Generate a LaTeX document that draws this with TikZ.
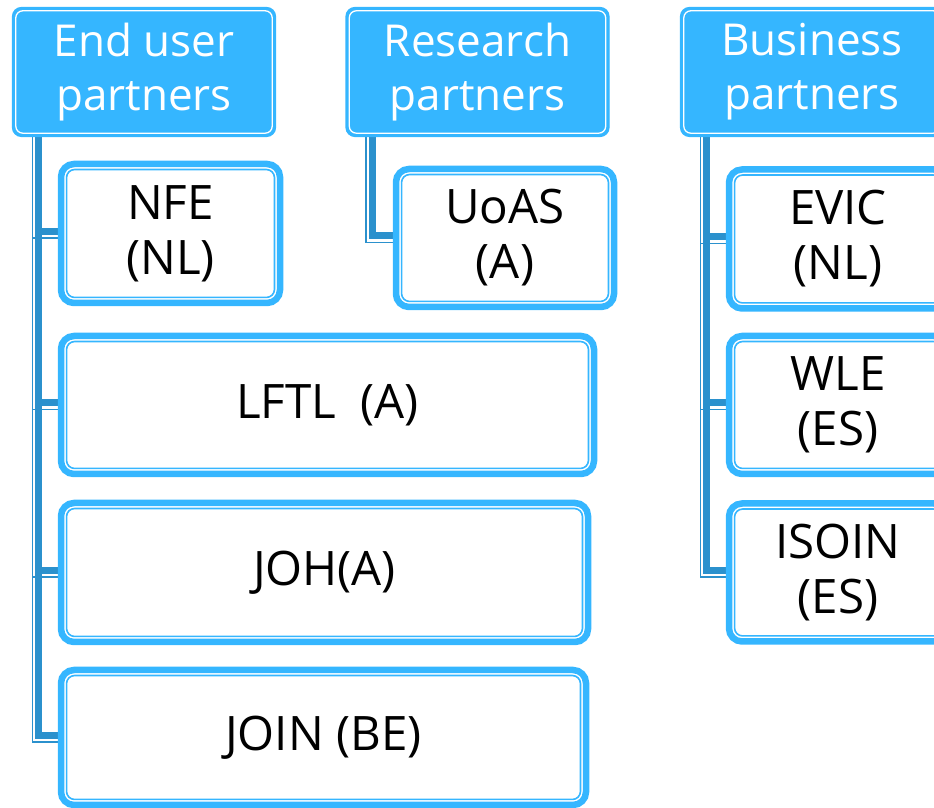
\documentclass[tikz,border=0pt]{standalone}
\usepackage{fontspec}
\setmainfont{Open Sans}
\usetikzlibrary{backgrounds}
\definecolor{lb}{HTML}{35B6FF}
\definecolor{cb}{HTML}{2B91CD}
\begin{document}
\begin{tikzpicture}[x=1pt,y=1pt,
  hdr/.style={draw=lb, line width=1.2pt, fill=lb, rounded corners=9pt, minimum width=263pt, minimum height=129pt, text=white, align=center, font=\fontsize{44}{54}\selectfont, inner sep=0pt},
  child/.style={draw=lb, line width=6.5pt, fill=white, rounded corners=13pt, align=center, font=\fontsize{47.5}{55}\selectfont, inner sep=0pt},
  thickc/.style={draw=cb, line width=7pt},
  thinc/.style={draw=cb, line width=1.5pt},
  innerb/.style={draw=lb, line width=1.6pt, rounded corners=8pt},
  innerh/.style={draw=white, line width=1.3pt, rounded corners=7pt}]
\useasboundingbox (0,0) rectangle (934,808);
\clip (0,0) rectangle (934,808);
% headers
\node[hdr] (eu) at (144,736) {End user\\partners};
\node[hdr] (rs) at (477.5,736) {Research\\partners};
\node[hdr] (bu) at (812,736) {Business\\partners};
% children
\node[child, minimum width=219pt, minimum height=139pt] (nfe) at (170.5,574.5) {NFE\\(NL)};
\node[child, minimum width=218pt, minimum height=138pt] (uoas) at (505,570) {UoAS\\(A)};
\node[child, minimum width=533pt, minimum height=138pt] (lftl) at (327.5,403) {LFTL~~(A)};
\node[child, minimum width=527pt, minimum height=139pt] (joh) at (324.5,235.5) {JOH(A)};
\node[child, minimum width=525pt, minimum height=135pt] (join) at (323.5,70.5) {JOIN (BE)};
\node[child, minimum width=218pt, minimum height=139pt] (evic) at (838,569) {EVIC\\(NL)};
\node[child, minimum width=218pt, minimum height=138pt] (wle) at (838,403) {WLE\\(ES)};
\node[child, minimum width=218pt, minimum height=138pt] (isoin) at (838,235.5) {ISOIN\\(ES)};
% inner lines
\foreach \n in {nfe,uoas,lftl,joh,join,evic,wle,isoin}
  \draw[innerb] ([shift={(8.8pt,8.8pt)}]\n.south west) rectangle ([shift={(-8.8pt,-8.8pt)}]\n.north east);
\foreach \n in {eu,rs,bu}
  \draw[innerh] ([shift={(3.9pt,3.9pt)}]\n.south west) rectangle ([shift={(-3.9pt,-3.9pt)}]\n.north east);
% connectors
\begin{scope}[on background layer]
  \foreach \h/\c in {eu/nfe,eu/lftl,eu/joh,eu/join,rs/uoas,bu/evic,bu/wle,bu/isoin} {
    \draw[thinc] ([xshift=20.5pt]\h.south west) |- ([yshift=-4.5pt]\c.west);
    \draw[thickc] ([xshift=27pt]\h.south west) |- ([yshift=2pt]\c.west);
  }
\end{scope}
\end{tikzpicture}
\end{document}
